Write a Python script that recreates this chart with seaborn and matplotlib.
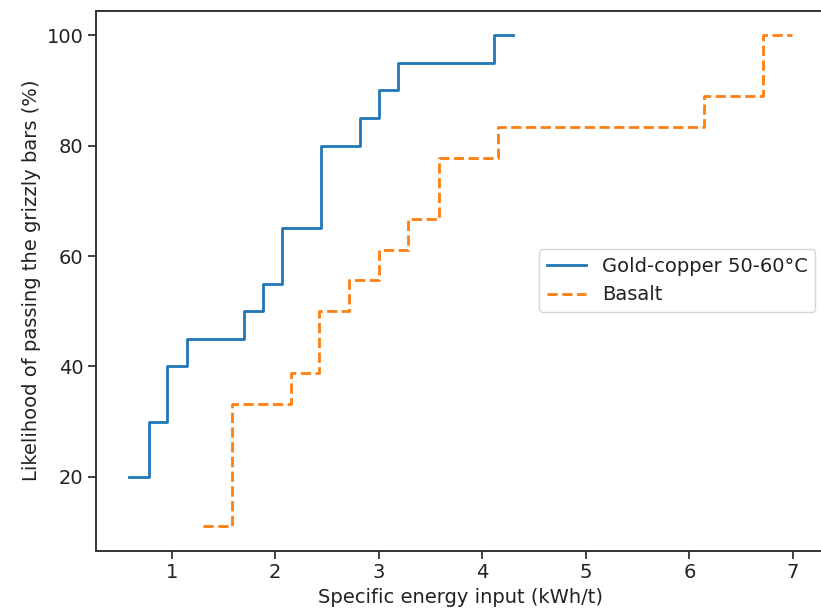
import matplotlib
matplotlib.use("Agg")
import matplotlib.pyplot as plt
import seaborn as sns
import pandas as pd

# Gold-copper 50-60°C series (step points, post)
gold_x = [0.59, 0.78, 0.96, 1.15, 1.70, 1.88, 2.07, 2.44, 2.82, 3.00, 3.19, 4.11, 4.30]
gold_y = [20, 30, 40, 45, 50, 55, 65, 80, 85, 90, 95, 100, 100]

# Basalt series (step points, post)
basalt_x = [1.30, 1.58, 2.15, 2.42, 2.71, 3.00, 3.28, 3.58, 4.15, 6.14, 6.71, 6.99]
basalt_y = [11.1, 33.3, 38.9, 50.0, 55.6, 61.1, 66.7, 77.8, 83.3, 88.9, 100, 100]

labels = ["Gold-copper 50-60°C", "Basalt"]
x_ticks = [1, 2, 3, 4, 5, 6, 7]
y_ticks = [20, 40, 60, 80, 100]

plt.rcParams['font.family'] = ['DejaVu Sans']
fs = 14

W, H = 821, 616
fig = plt.figure(figsize=(W / 100, H / 100), dpi=100)
ax = fig.add_axes([96 / W, (H - 550.7) / H, (825 - 96) / W, (550.7 - 10.5) / H])

df_gold = pd.DataFrame({"x": gold_x, "y": gold_y})
df_bas = pd.DataFrame({"x": basalt_x, "y": basalt_y})

sns.lineplot(data=df_gold, x="x", y="y", ax=ax, color="#1f77b4", lw=2.0,
             drawstyle="steps-post", label=labels[0], estimator=None, sort=False)
sns.lineplot(data=df_bas, x="x", y="y", ax=ax, color="#ff7f0e", lw=2.0,
             linestyle="--", drawstyle="steps-post", label=labels[1],
             estimator=None, sort=False)

ax.set_xticks(x_ticks)
ax.set_yticks(y_ticks)
ax.tick_params(labelsize=fs, length=5.5, width=1.3, colors="#333333", labelcolor="#222222")
ax.set_xlabel("Specific energy input (kWh/t)", fontsize=fs, color="#222222")
ax.set_ylabel("Likelihood of passing the grizzly bars (%)", fontsize=fs, color="#222222")
for s in ax.spines.values():
    s.set_linewidth(1.4)
    s.set_color("#333333")
ax.spines["right"].set_visible(False)
leg = ax.legend(loc="center right", fontsize=fs)
for t in leg.get_texts():
    t.set_color("#222222")

fig.savefig("out.png", dpi=100)
